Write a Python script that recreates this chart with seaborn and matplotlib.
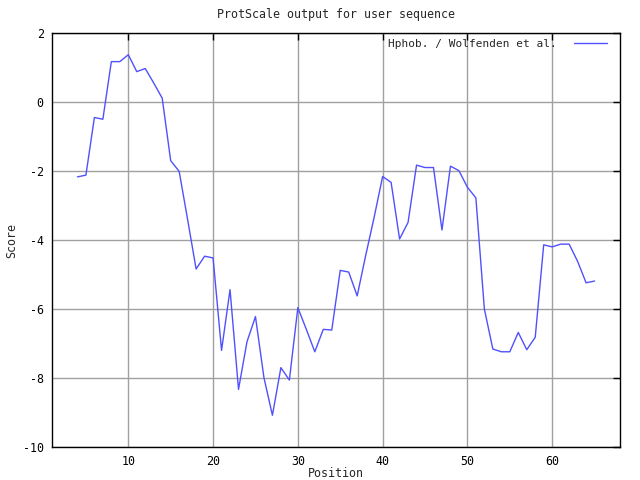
import matplotlib
matplotlib.use('Agg')

import pandas as pd
import matplotlib.pyplot as plt
import seaborn as sns

# ProtScale output, window of 7 -> positions 4..65 of a 68 residue sequence
positions = list(range(4, 66))
scores = [
    -2.17, -2.12, -0.45, -0.50, 1.17, 1.17, 1.37, 0.88, 0.97, 0.55,
    0.11, -1.70, -2.01, -3.41, -4.84, -4.47, -4.52, -7.20, -5.44, -8.33,
    -6.95, -6.22, -7.99, -9.08, -7.70, -8.06, -5.96, -6.59, -7.24, -6.59,
    -6.61, -4.88, -4.93, -5.62, -4.45, -3.34, -2.16, -2.33, -3.97, -3.49,
    -1.83, -1.90, -1.90, -3.71, -1.86, -1.99, -2.47, -2.78, -6.00, -7.16,
    -7.24, -7.24, -6.68, -7.18, -6.82, -4.14, -4.20, -4.12, -4.12, -4.62,
    -5.24, -5.19,
]
x_ticks = [10, 20, 30, 40, 50, 60]
y_ticks = [2, 0, -2, -4, -6, -8, -10]
series_label = "Hphob. / Wolfenden et al."

df = pd.DataFrame({"Position": positions, "Score": scores})

sns.set_style("white")
plt.rcParams['font.family'] = ['DejaVu Sans Mono']
plt.rcParams['axes.unicode_minus'] = False

fs = 8.4
fig = plt.figure(figsize=(6.4, 4.8), dpi=100)
ax = fig.add_axes([52 / 640, 33 / 480, 568 / 640, 414 / 480])

sns.lineplot(data=df, x="Position", y="Score", ax=ax, color="#5050ff",
             linewidth=1.0, label=series_label)

ax.set_xlim(1, 68)
ax.set_ylim(-10, 2)
ax.set_xticks(x_ticks)
ax.set_yticks(y_ticks)
ax.grid(True, color="#a0a0a0", linewidth=1.0)
ax.tick_params(direction="in", length=5, width=1, colors="black",
               top=True, right=True, labelsize=fs, pad=6)
for sp in ax.spines.values():
    sp.set_color("black")
    sp.set_linewidth(1.0)

ax.set_title("ProtScale output for user sequence", fontsize=fs, pad=10.5)
ax.set_xlabel("Position", fontsize=fs, va="center")
ax.set_ylabel("Score", fontsize=fs, va="center")
ax.xaxis.set_label_coords(0.5, -0.063)
ax.yaxis.set_label_coords(-0.070, 0.5)

# gnuplot style key: no box, text then line sample
leg = ax.legend(loc="upper right", bbox_to_anchor=(0.977, 0.985),
                fontsize=8, frameon=False, borderaxespad=0, borderpad=0,
                markerfirst=False, handlelength=3.0, handletextpad=1.5)

fig.savefig("out.png", dpi=100)
plt.close(fig)
